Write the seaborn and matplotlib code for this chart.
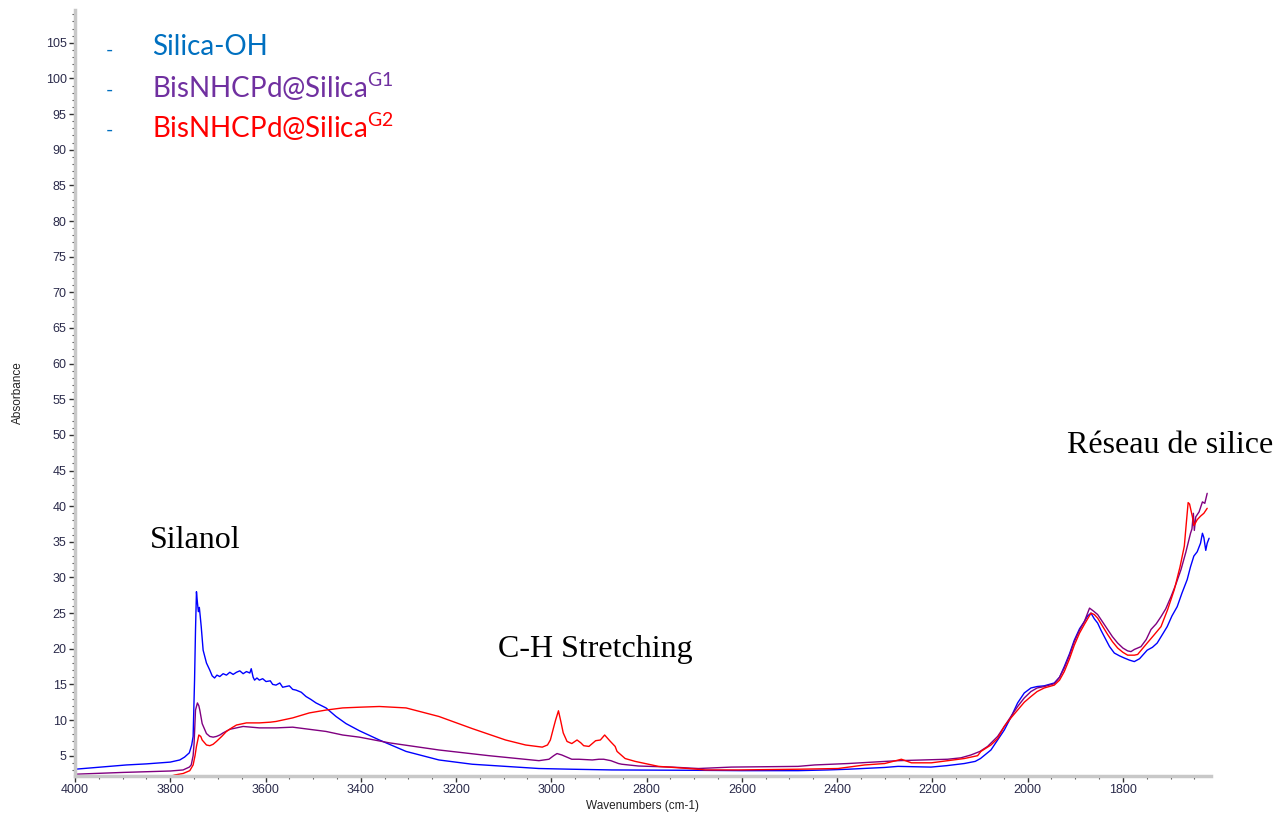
import numpy as np
import pandas as pd
import seaborn as sns
import matplotlib
matplotlib.use("Agg")
import matplotlib.pyplot as plt
from matplotlib.ticker import MultipleLocator

# ---------------- data ----------------
series_names = ["Silica-OH", "BisNHCPd@Silica G1", "BisNHCPd@Silica G2"]
series_colors = ["#0000FF", "#800080", "#FF0000"]

wn_silica_oh = [4000, 3892, 3850, 3800, 3780, 3770, 3760, 3755, 3752, 3749, 3747, 3745, 3743, 3741,
                3739, 3737, 3735, 3731, 3724, 3717, 3712, 3707, 3702, 3696, 3689, 3682, 3675, 3668,
                3661, 3654, 3647, 3640, 3633, 3630, 3626, 3623, 3618, 3613, 3606, 3599, 3590, 3585,
                3578, 3570, 3564, 3557, 3550, 3543, 3536, 3525, 3515, 3505, 3494, 3473, 3452, 3431,
                3403, 3361, 3305, 3236, 3166, 3096, 3026, 2957, 2873, 2700, 2600, 2482, 2420, 2377,
                2300, 2272, 2203, 2170, 2133, 2110, 2099, 2077, 2063, 2049, 2035, 2021, 2007, 1993,
                1980, 1965, 1944, 1933, 1923, 1912, 1902, 1891, 1881, 1874, 1867, 1860, 1853, 1846,
                1839, 1828, 1818, 1807, 1797, 1786, 1776, 1765, 1749, 1738, 1728, 1717, 1707, 1697,
                1686, 1676, 1665, 1658, 1651, 1644, 1637, 1633, 1630, 1626, 1623, 1619]
abs_silica_oh = [3.1, 3.7, 3.85, 4.1, 4.4, 4.8, 5.4, 6.5, 7.7, 15.6, 22.6, 28.0, 26.5, 25.2,
                 25.8, 24.5, 23.1, 19.8, 18.0, 17.0, 16.2, 15.9, 16.3, 16.1, 16.5, 16.3, 16.7, 16.4,
                 16.7, 16.9, 16.5, 16.8, 16.6, 17.2, 16.0, 15.6, 15.9, 15.6, 15.8, 15.4, 15.5, 15.0,
                 14.9, 15.2, 14.6, 14.7, 14.8, 14.3, 14.2, 13.9, 13.3, 12.9, 12.4, 11.7, 10.5, 9.5,
                 8.5, 7.2, 5.6, 4.4, 3.8, 3.5, 3.2, 3.1, 3.0, 2.95, 2.9, 2.9, 3.0, 3.1,
                 3.35, 3.5, 3.4, 3.6, 3.9, 4.2, 4.6, 5.8, 7.2, 8.6, 10.4, 12.4, 13.8, 14.5,
                 14.7, 14.8, 15.2, 16.0, 17.5, 19.3, 21.2, 22.8, 23.8, 24.6, 25.0, 24.2, 23.6, 22.6,
                 21.7, 20.3, 19.4, 19.0, 18.7, 18.4, 18.2, 18.6, 19.8, 20.2, 20.8, 22.0, 23.1, 24.6,
                 25.9, 27.8, 29.7, 31.5, 33.0, 33.6, 34.8, 36.2, 35.6, 33.8, 34.8, 35.5]

wn_g1 = [4000, 3900, 3800, 3773, 3760, 3756, 3752, 3750, 3747, 3743, 3740, 3738, 3733, 3724,
         3717, 3710, 3703, 3696, 3689, 3675, 3661, 3647, 3613, 3578, 3543, 3508, 3473, 3438,
         3403, 3340, 3236, 3131, 3026, 3005, 2995, 2988, 2978, 2971, 2957, 2942, 2914, 2900,
         2890, 2875, 2859, 2852, 2817, 2747, 2691, 2622, 2482, 2447, 2377, 2272, 2168, 2140,
         2119, 2100, 2084, 2063, 2049, 2035, 2021, 2007, 1993, 1980, 1965, 1944, 1933, 1923,
         1912, 1902, 1891, 1881, 1870, 1862, 1853, 1843, 1832, 1822, 1811, 1800, 1790, 1783,
         1776, 1762, 1751, 1741, 1730, 1720, 1710, 1699, 1689, 1678, 1668, 1658, 1655, 1652,
         1650, 1647, 1640, 1633, 1628, 1623]
abs_g1 = [2.4, 2.65, 2.85, 3.0, 3.4, 3.7, 5.0, 6.7, 11.4, 12.4, 12.0, 11.4, 9.5, 8.1,
          7.7, 7.6, 7.7, 7.9, 8.2, 8.7, 8.9, 9.1, 8.9, 8.9, 9.0, 8.7, 8.4, 7.9,
          7.6, 6.8, 5.8, 5.0, 4.3, 4.5, 5.0, 5.3, 5.1, 4.9, 4.5, 4.5, 4.4, 4.5,
          4.5, 4.3, 3.9, 3.8, 3.55, 3.4, 3.2, 3.4, 3.5, 3.7, 3.9, 4.3, 4.5, 4.7,
          5.1, 5.6, 6.3, 7.7, 9.1, 10.5, 11.9, 13.1, 14.0, 14.5, 14.7, 15.1, 16.0, 17.3,
          19.1, 21.0, 22.6, 23.8, 25.7, 25.3, 24.8, 23.8, 22.7, 21.7, 20.8, 20.1, 19.7, 19.6,
          19.9, 20.3, 21.3, 22.7, 23.5, 24.5, 25.6, 27.3, 29.0, 31.1, 33.5, 36.2, 36.8, 39.0,
          36.6, 38.5, 39.2, 40.6, 40.4, 41.8]

wn_g2 = [3800, 3790, 3773, 3759, 3752, 3748, 3745, 3740, 3736, 3733, 3724, 3717, 3710, 3703,
         3692, 3682, 3671, 3661, 3640, 3613, 3590, 3578, 3543, 3508, 3473, 3438, 3403, 3361,
         3305, 3236, 3166, 3096, 3054, 3019, 3008, 3002, 2995, 2991, 2985, 2980, 2975, 2967,
         2957, 2946, 2938, 2932, 2921, 2907, 2897, 2888, 2876, 2866, 2862, 2845, 2824, 2803,
         2775, 2712, 2677, 2607, 2482, 2398, 2342, 2300, 2265, 2244, 2202, 2133, 2105, 2098,
         2077, 2063, 2049, 2035, 2021, 2007, 1993, 1980, 1965, 1944, 1933, 1923, 1912, 1902,
         1891, 1881, 1867, 1860, 1853, 1843, 1832, 1822, 1811, 1800, 1790, 1776, 1769, 1749,
         1735, 1720, 1706, 1692, 1680, 1671, 1667, 1663, 1660, 1658, 1654, 1651, 1648, 1644,
         1637, 1630, 1623]
abs_g2 = [2.1, 2.3, 2.5, 2.9, 3.7, 5.0, 6.3, 7.9, 7.7, 7.2, 6.5, 6.4, 6.6, 7.0,
          7.7, 8.4, 8.9, 9.3, 9.6, 9.6, 9.7, 9.8, 10.3, 11.0, 11.4, 11.7, 11.8, 11.9,
          11.7, 10.5, 8.8, 7.2, 6.5, 6.2, 6.5, 7.2, 9.0, 10.0, 11.3, 9.8, 8.2, 7.0,
          6.7, 7.2, 6.8, 6.4, 6.3, 7.1, 7.2, 7.9, 7.0, 6.3, 5.6, 4.6, 4.2, 3.9,
          3.5, 3.2, 3.0, 3.0, 3.1, 3.2, 3.7, 3.9, 4.5, 4.0, 4.0, 4.6, 5.0, 5.6,
          6.5, 7.4, 9.1, 10.3, 11.4, 12.5, 13.3, 14.0, 14.5, 14.9, 15.6, 16.8, 18.6, 20.5,
          22.2, 23.4, 25.0, 24.8, 24.3, 23.2, 22.0, 21.0, 20.1, 19.5, 19.1, 19.1, 19.2, 20.8,
          21.9, 23.1, 25.5, 28.3, 31.5, 34.4, 37.5, 40.5, 40.3, 39.7, 38.5, 37.3, 37.6, 38.1,
          38.6, 39.0, 39.7]

y_ticks = list(range(5, 110, 5))
x_ticks = [4000, 3800, 3600, 3400, 3200, 3000, 2800, 2600, 2400, 2200, 2000, 1800]

# ---------------- build frame ----------------
frames = []
for name, wn, ab in [(series_names[0], wn_silica_oh, abs_silica_oh),
                     (series_names[1], wn_g1, abs_g1),
                     (series_names[2], wn_g2, abs_g2)]:
    frames.append(pd.DataFrame({"wn": wn, "abs": ab, "series": name}))
df = pd.concat(frames, ignore_index=True)

# ---------------- plot ----------------
sns.set_theme(style="white")
plt.rcParams["font.family"] = ["Liberation Sans", "DejaVu Sans"]
plt.rcParams["mathtext.fontset"] = "custom"
plt.rcParams["mathtext.rm"] = "Lato"

fig = plt.figure(figsize=(12.77, 8.19), dpi=100)
ax = fig.add_axes([75 / 1277, 1 - 776 / 819, (1211 - 75) / 1277, (776 - 10) / 819])

sns.lineplot(data=df, x="wn", y="abs", hue="series", palette=dict(zip(series_names, series_colors)),
             ax=ax, linewidth=1.0, legend=False, estimator=None, sort=False)

ax.set_xlim(4000, 1615)
ax.set_ylim(2.15, 109.6)
ax.set_xticks(x_ticks)
ax.set_yticks(y_ticks)
ax.xaxis.set_minor_locator(MultipleLocator(50))
ax.yaxis.set_minor_locator(MultipleLocator(1))

tick_color = "#2a2a4a"
ax.tick_params(axis="both", which="major", direction="out", length=4, width=1,
               color="#333333", labelsize=9, labelcolor=tick_color, pad=2)
ax.tick_params(axis="both", which="minor", direction="out", length=2, width=0.8, color="#555555")
ax.tick_params(axis="x", which="both", bottom=True)
ax.tick_params(axis="y", which="both", left=True)

for s in ["top", "right"]:
    ax.spines[s].set_visible(False)
for s in ["left", "bottom"]:
    ax.spines[s].set_color("#c8c8c8")
    ax.spines[s].set_linewidth(2.5)

ax.set_xlabel("Wavenumbers (cm-1)", fontsize=8.5, color="#222222", labelpad=3)
ax.set_ylabel("Absorbance", fontsize=8.5, color="#222222")
ax.yaxis.set_label_coords((24 - 75) / 1136, 0.5)
ax.grid(False)

# ---------------- legend-like text ----------------
legend_colors = ["#0070C0", "#7030A0", "#FF0000"]
legend_labels = ["Silica-OH", r"BisNHCPd@Silica$^{\mathrm{G1}}$", r"BisNHCPd@Silica$^{\mathrm{G2}}$"]
legend_y = [47, 87, 127]
for lab, col, yp in zip(legend_labels, legend_colors, legend_y):
    fig.text(106 / 1277, 1 - (yp + 3) / 819, "-", color="#0070C0", fontsize=14,
             family="Lato", ha="left", va="center")
    fig.text(152 / 1277, 1 - yp / 819, lab, color=col, fontsize=20,
             family="Lato", ha="left", va="center")

# ---------------- annotations ----------------
serif = ["Liberation Serif", "DejaVu Serif"]
fig.text(195 / 1277, 1 - 540 / 819, "Silanol", fontsize=23, family=serif, color="black",
         ha="center", va="center")
fig.text(595 / 1277, 1 - 650 / 819, "C-H Stretching", fontsize=23, family=serif, color="black",
         ha="center", va="center")
fig.text(1170 / 1277, 1 - 446 / 819, "Réseau de silice", fontsize=23, family=serif, color="black",
         ha="center", va="center")

fig.savefig("out.png", dpi=100, facecolor="white")
